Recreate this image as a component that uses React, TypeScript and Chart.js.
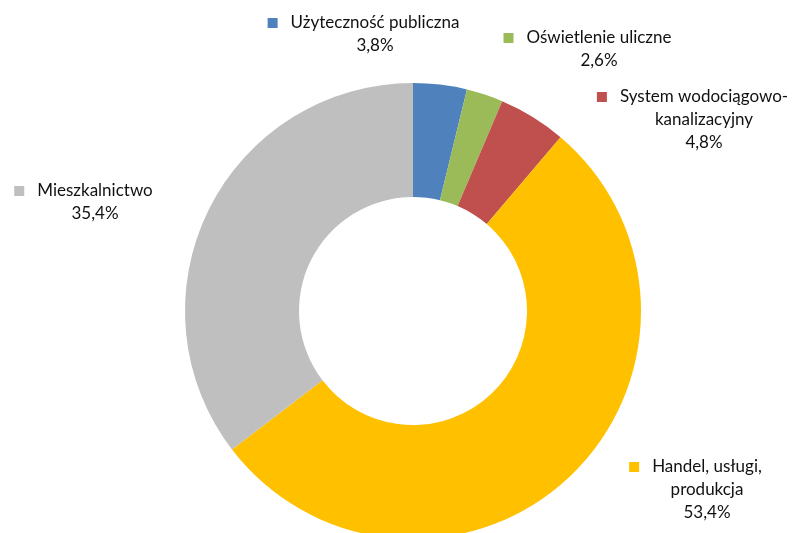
import React, { useEffect, useRef } from "react";
import { Chart, registerables } from "chart.js";

Chart.register(...registerables);

const categories = [
  "Użyteczność publiczna",
  "Oświetlenie uliczne",
  "System wodociągowo-kanalizacyjny",
  "Handel, usługi, produkcja",
  "Mieszkalnictwo",
];
const values = [3.8, 2.6, 4.8, 53.4, 35.4];
const labelLines = [
  ["Użyteczność publiczna"],
  ["Oświetlenie uliczne"],
  ["System wodociągowo-", "kanalizacyjny"],
  ["Handel, usługi,", "produkcja"],
  ["Mieszkalnictwo"],
];
const colors = ["#4F81BD", "#9BBB59", "#C0504D", "#FFC000", "#BFBFBF"];

// label anchor (center x of text, center y of first line)
const labelPos = [
  { x: 375, y: 23 },
  { x: 599, y: 38 },
  { x: 704, y: 97 },
  { x: 707, y: 467 },
  { x: 95, y: 191 },
];

const FONT = "17px Lato, 'Open Sans', sans-serif";
const LINE_H = 23;

const labelPlugin = {
  id: "outerLabels",
  afterDraw(chart: any) {
    const ctx = chart.ctx;
    const ds = chart.data.datasets[0];
    ctx.save();
    ctx.font = FONT;
    ctx.textBaseline = "middle";
    ctx.textAlign = "center";
    ds.data.forEach((v: number, i: number) => {
      const p = labelPos[i];
      const lines = [...labelLines[i], v.toFixed(1).replace(".", ",") + "%"];
      lines.forEach((t, j) => {
        const y = p.y + j * LINE_H;
        ctx.fillStyle = "#111111";
        ctx.fillText(t, p.x, y);
        if (j === 0) {
          const w = ctx.measureText(t).width;
          ctx.fillStyle = colors[i];
          ctx.fillRect(p.x - w / 2 - 23, y - 5, 10, 10);
        }
      });
    });
    ctx.restore();
  },
};

export default function App() {
  const ref = useRef<HTMLCanvasElement>(null);
  useEffect(() => {
    document.body.style.margin = "0";
    const chart = new Chart(ref.current!, {
      type: "doughnut",
      data: {
        labels: categories,
        datasets: [
          {
            data: values,
            backgroundColor: colors,
            borderWidth: 0,
          },
        ],
      },
      options: {
        responsive: false,
        animation: false,
        cutout: "50%",
        layout: { padding: { top: 83, bottom: 61, left: 185, right: 151 } },
        plugins: { legend: { display: false }, tooltip: { enabled: false } },
      },
      plugins: [labelPlugin],
    });
    return () => chart.destroy();
  }, []);
  return (
    <div style={{ width: 792, height: 533, overflow: "hidden", background: "#fff" }}>
      <canvas ref={ref} width={792} height={600} style={{ display: "block" }} />
    </div>
  );
}
